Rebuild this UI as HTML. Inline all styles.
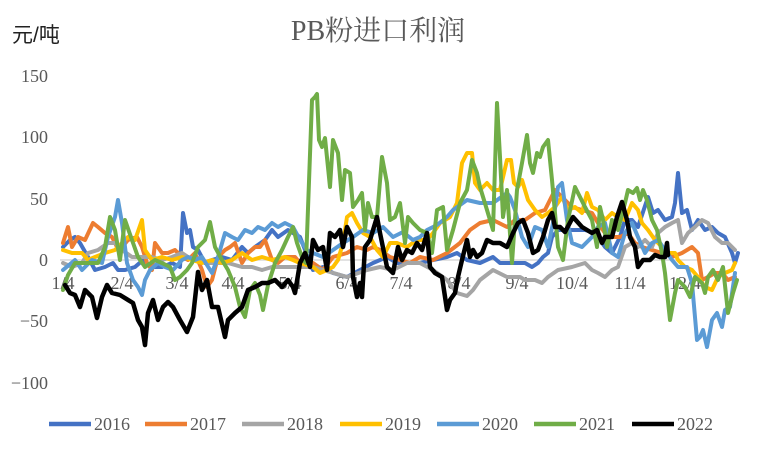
<!DOCTYPE html>
<html><head><meta charset="utf-8"><style>
html,body{margin:0;padding:0;background:#fff;}
svg{display:block;}
.t{font-family:"Liberation Serif","Noto Serif CJK SC",serif;fill:#595959;font-size:18px;}
</style></head><body>
<svg width="763" height="452" viewBox="0 0 763 452" xmlns="http://www.w3.org/2000/svg">
<rect width="763" height="452" fill="#fff"/>
<text x="378" y="40" text-anchor="middle" style="font-family:'Liberation Serif','Noto Serif CJK SC',serif;font-size:28px;fill:#595959">PB粉进口利润</text>
<text x="12" y="42" style="font-family:'Liberation Sans','Noto Sans CJK SC',sans-serif;font-size:21px;fill:#222">元/吨</text>
<g class="t" text-anchor="end">
<text x="48" y="82">150</text>
<text x="48" y="143">100</text>
<text x="48" y="205">50</text>
<text x="48" y="266">0</text>
<text x="48" y="327">−50</text>
<text x="48" y="389">−100</text>
</g>
<line x1="60" y1="260" x2="737" y2="260" stroke="#d9d9d9" stroke-width="1.5"/>
<g class="t" text-anchor="middle">
<text x="63" y="289">1/4</text>
<text x="122" y="289">2/4</text>
<text x="177" y="289">3/4</text>
<text x="233" y="289">4/4</text>
<text x="290" y="289">5/4</text>
<text x="347" y="289">6/4</text>
<text x="401" y="289">7/4</text>
<text x="459" y="289">8/4</text>
<text x="517" y="289">9/4</text>
<text x="572" y="289">10/4</text>
<text x="630" y="289">11/4</text>
<text x="685" y="289">12/4</text>
</g>
<g fill="none" stroke-width="4" stroke-linejoin="round" stroke-linecap="round">
<polyline stroke="#4472C4" points="63,247 70,240 75,237 80,243 88,257 95,270 105,267 113,263 118,270 125,270 135,267 143,260 152,267 162,267 172,263 180,267 183,213 187,233 190,230 193,247 198,250 205,263 212,260 222,257 232,260 242,247 248,253 255,247 265,240 272,230 278,237 288,230 293,233 300,237 307,255 313,270 323,267 333,273 347,277 360,270 373,263 387,257 397,263 407,263 420,263 433,260 447,257 457,253 467,260 480,263 493,257 500,263 513,263 520,263 525,263 532,267 538,263 543,257 548,253 552,237 558,230 572,230 585,230 595,233 605,247 612,253 620,237 625,220 632,220 638,227 648,197 653,213 658,210 665,220 672,217 675,203 678,173 682,213 687,210 692,230 698,220 705,230 712,227 718,233 725,237 732,253 735,263 738,253"/>
<polyline stroke="#ED7D31" points="63,243 68,227 72,247 78,237 85,240 93,223 98,227 105,233 112,237 117,247 122,247 128,240 137,237 142,247 147,263 152,270 155,243 162,253 168,253 175,250 182,257 188,260 195,253 202,270 207,287 212,280 218,257 225,250 230,247 235,243 242,263 248,253 255,247 260,247 265,240 272,260 278,263 285,257 295,257 300,263 313,263 323,270 333,257 347,253 357,247 367,250 373,247 380,250 390,257 400,260 410,263 420,257 433,260 447,253 460,243 470,230 480,223 493,220 507,227 515,220 525,220 535,213 545,210 555,190 562,197 572,207 582,210 592,213 598,223 605,233 612,237 620,237 628,233 635,243 642,247 652,250 662,253 672,257 682,253 692,247 698,253 702,280 708,277 715,273 722,273 728,280 735,277"/>
<polyline stroke="#A5A5A5" points="63,263 72,267 82,263 88,253 98,250 108,243 115,243 122,250 132,257 142,257 152,257 162,260 172,257 182,253 188,257 198,260 208,263 218,263 228,263 242,267 252,267 262,270 272,267 282,267 293,267 313,267 330,272 347,277 367,270 380,267 393,270 407,263 420,263 433,270 447,280 457,293 467,296 473,290 480,280 493,270 507,277 520,277 525,280 535,280 542,283 548,277 558,270 572,267 585,263 592,270 598,273 605,277 612,270 618,267 625,247 632,243 638,247 645,240 652,247 658,233 665,227 672,223 678,220 682,243 688,233 695,227 702,220 708,223 715,237 722,243 728,243 735,250"/>
<polyline stroke="#FFC000" points="63,250 72,253 82,253 88,260 95,257 105,253 115,250 122,243 128,237 135,240 142,220 145,250 152,260 162,257 172,260 182,257 192,260 202,263 212,260 222,263 232,260 242,253 252,260 262,257 272,260 285,257 293,260 300,263 313,267 320,273 327,270 333,267 338,260 343,243 347,217 352,213 357,223 363,233 370,237 377,250 383,257 390,243 397,243 407,247 417,240 427,240 433,233 440,223 450,217 457,203 462,163 467,153 472,153 475,183 480,190 487,183 493,190 500,190 507,160 511,160 514,183 518,187 522,180 528,200 535,210 542,217 548,213 555,207 562,197 568,210 575,207 582,213 587,193 592,207 598,210 605,220 612,213 618,217 625,220 632,203 638,210 642,223 648,230 655,240 662,247 668,253 675,253 678,260 685,267 692,270 698,277 705,287 712,290 718,277 725,273 732,270 735,263"/>
<polyline stroke="#5B9BD5" points="63,270 75,260 82,270 92,260 102,263 108,237 115,217 118,200 122,223 127,263 133,280 138,287 142,295 145,280 150,270 158,263 165,267 173,270 182,260 188,257 195,260 202,257 212,273 218,257 225,233 232,237 238,240 245,230 252,233 258,227 265,230 272,223 278,227 285,223 293,227 300,240 307,250 313,253 323,257 333,250 343,243 353,237 363,230 373,233 383,227 393,237 403,232 413,240 420,237 427,230 437,225 447,217 453,210 467,200 480,203 493,203 500,198 507,193 510,197 515,210 522,237 528,247 535,227 542,230 548,247 553,223 558,187 562,183 567,220 572,243 582,247 592,237 598,227 605,223 612,253 618,257 625,233 632,223 638,237 645,253 652,243 658,240 665,250 672,260 678,267 687,267 692,283 697,340 700,337 703,330 707,347 712,320 717,313 722,327 725,310 730,307 735,273"/>
<polyline stroke="#70AD47" points="63,290 68,275 75,263 88,263 98,263 105,247 110,217 115,230 120,260 125,220 132,240 138,257 145,267 155,260 162,263 170,267 175,280 180,277 187,270 192,263 198,247 205,240 210,222 215,247 222,260 228,270 235,287 240,307 245,317 250,290 255,283 260,295 263,310 268,285 275,263 282,250 288,237 293,227 297,243 303,260 306,263 312,100 315,97 317,94 319,140 322,147 325,138 330,187 333,140 338,153 342,200 345,170 350,173 353,207 358,200 362,193 365,230 368,203 372,217 377,217 382,157 387,183 390,220 395,217 400,203 405,243 408,217 413,223 420,230 427,233 432,253 437,210 443,207 447,250 453,230 460,203 467,190 472,160 477,173 480,187 487,210 493,230 497,103 500,157 503,217 507,190 512,263 517,190 522,163 527,135 530,163 533,173 537,153 540,157 543,147 548,140 552,180 555,213 558,247 563,260 568,220 575,187 580,197 585,207 592,220 597,247 600,207 603,220 607,247 612,220 618,230 625,203 628,190 633,193 637,188 640,200 643,190 647,200 652,220 657,230 662,253 665,273 670,320 675,293 678,280 685,287 690,297 695,277 702,283 705,293 708,277 713,270 718,280 723,267 728,313 733,293 737,280"/>
<polyline stroke="#000000" stroke-width="4.5" points="65,285 70,293 75,295 80,307 85,290 92,297 97,318 102,297 107,285 112,293 120,295 133,303 138,320 142,327 145,345 148,313 153,300 158,320 163,307 168,302 173,307 180,320 187,332 193,317 198,272 202,290 207,280 212,307 218,307 225,337 228,320 235,313 242,307 248,290 255,287 262,283 268,283 275,280 282,287 288,280 293,287 295,293 300,263 305,253 310,267 313,240 318,250 323,247 327,270 330,233 335,237 340,230 343,247 347,227 352,237 353,277 357,297 360,283 362,297 365,247 370,240 377,217 380,233 387,267 393,273 398,247 402,260 407,250 412,253 417,243 422,250 427,233 430,267 435,273 442,277 447,310 450,300 455,293 458,277 462,260 467,240 470,257 473,250 477,257 482,253 487,240 493,243 500,243 507,247 513,233 518,223 523,220 528,233 533,253 538,250 543,237 548,220 552,213 555,227 560,227 565,232 573,217 582,227 592,233 597,230 602,243 605,237 612,237 617,217 622,202 627,220 630,237 635,247 638,267 643,260 650,260 655,255 660,257 665,257 667,243 668,255"/>
</g>
<g stroke-width="4.5">
<line x1="49" y1="424" x2="91" y2="424" stroke="#4472C4"/>
<line x1="145" y1="424" x2="187" y2="424" stroke="#ED7D31"/>
<line x1="242" y1="424" x2="284" y2="424" stroke="#A5A5A5"/>
<line x1="340" y1="424" x2="382" y2="424" stroke="#FFC000"/>
<line x1="437" y1="424" x2="479" y2="424" stroke="#5B9BD5"/>
<line x1="534" y1="424" x2="576" y2="424" stroke="#70AD47"/>
<line x1="632" y1="424" x2="674" y2="424" stroke="#000000"/>
</g>
<g class="t">
<text x="94" y="430">2016</text>
<text x="190" y="430">2017</text>
<text x="287" y="430">2018</text>
<text x="385" y="430">2019</text>
<text x="482" y="430">2020</text>
<text x="579" y="430">2021</text>
<text x="677" y="430">2022</text>
</g>
</svg>
</body></html>
